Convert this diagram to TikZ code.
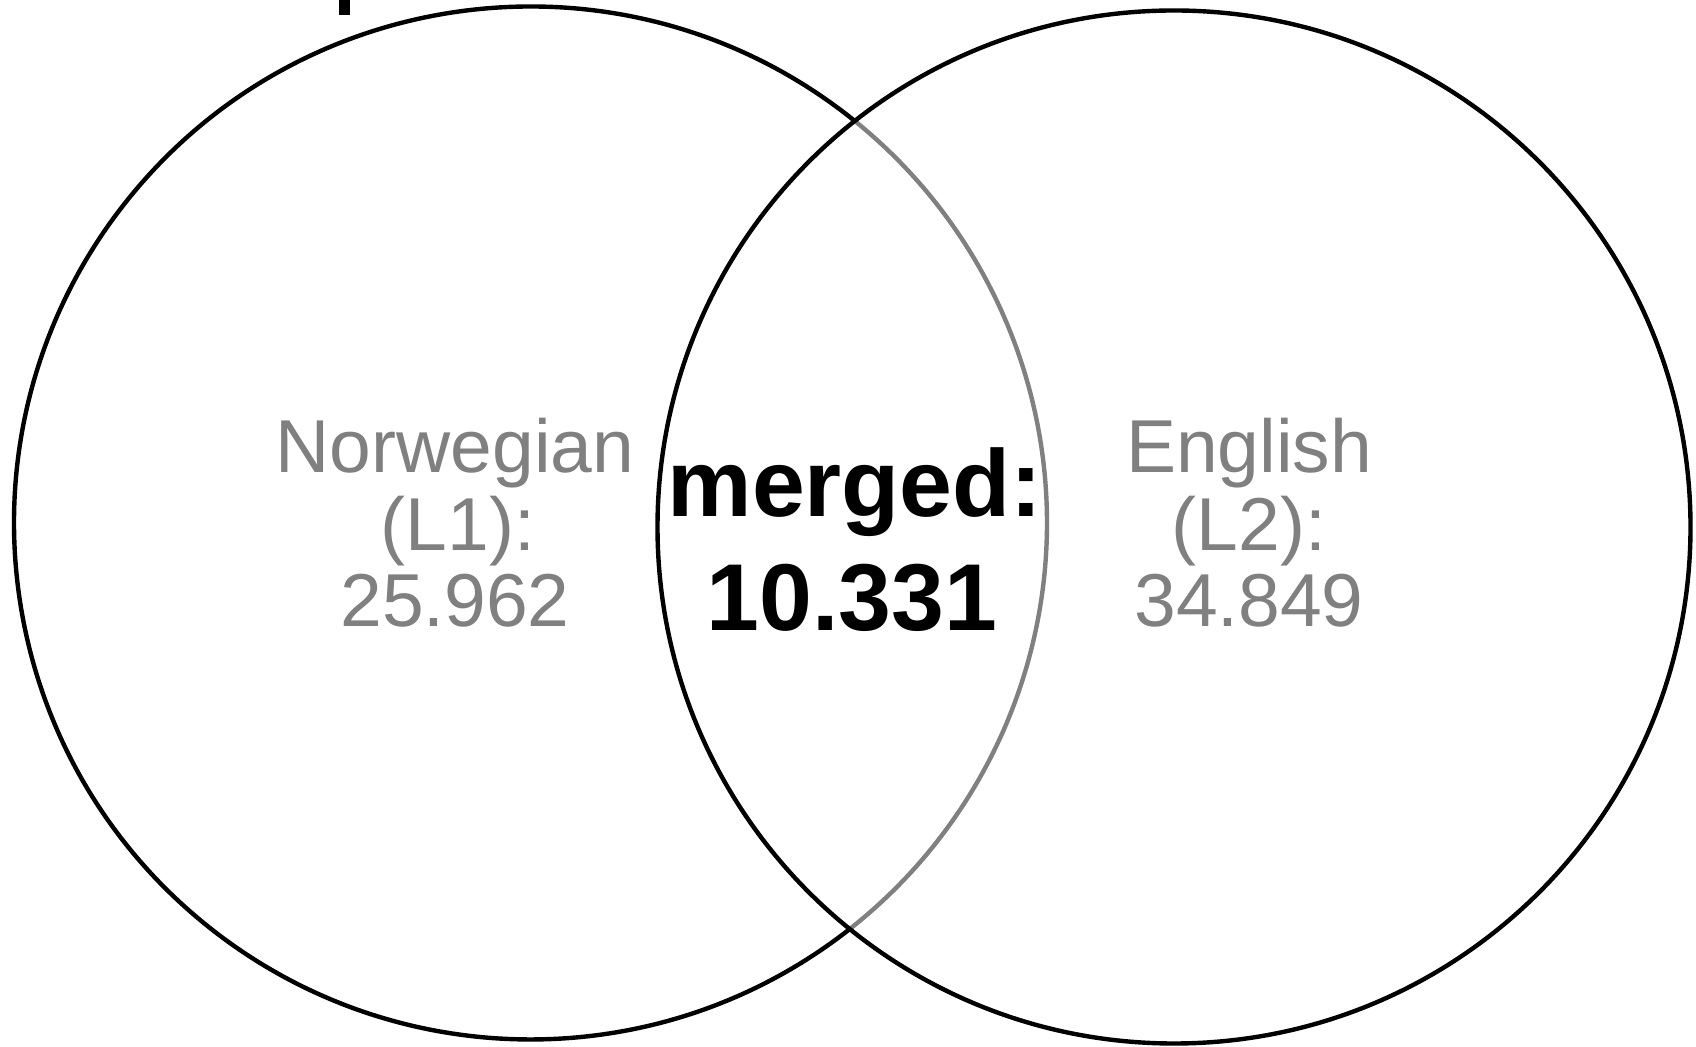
\documentclass[tikz,border=0pt]{standalone}
\usepackage{fontspec}
\setmainfont{Liberation Sans}
\definecolor{vgray}{HTML}{808080}
\begin{document}
\begin{tikzpicture}[x=1pt,y=1pt,
  ring/.style={line width=4.4pt},
  lbl/.style={anchor=base,inner sep=0pt,text=vgray,font=\fontsize{75}{77}\selectfont},
  mlbl/.style={anchor=base,inner sep=0pt,text=black,font=\fontsize{95}{100}\selectfont\bfseries}]
\useasboundingbox (0,0) rectangle (1696,1046);
\coordinate (cl) at (530.5,523);
\coordinate (cr) at (1174,519);
% gray arc of left circle inside right circle
\draw[ring,vgray] (cl) ++(-51.83:516.5pt) arc[start angle=-51.83,end angle=51.11,radius=516.5pt];
% black arc of left circle
\draw[ring,black] (cl) ++(51.11:516.5pt) arc[start angle=51.11,end angle=308.17,radius=516.5pt];
% right circle
\draw[ring,black] (cr) circle[radius=516.5pt];
% mark at top
\fill[black] (339,1031) rectangle (350,1046);
% labels
\node[lbl] (n1) at (455,573) {Norwegian};
\node[lbl] (n2) at (458,495) {(L1):};
\node[lbl] (n3) at (455,419) {25.962};
\node[mlbl] (m1) at (855,529) {merged:};
\node[mlbl] (m2) at (852,415) {10.331};
\node[lbl] (e1) at (1249,573) {English};
\node[lbl] (e2) at (1249,495) {(L2):};
\node[lbl] (e3) at (1249,419) {34.849};
\end{tikzpicture}
\end{document}
